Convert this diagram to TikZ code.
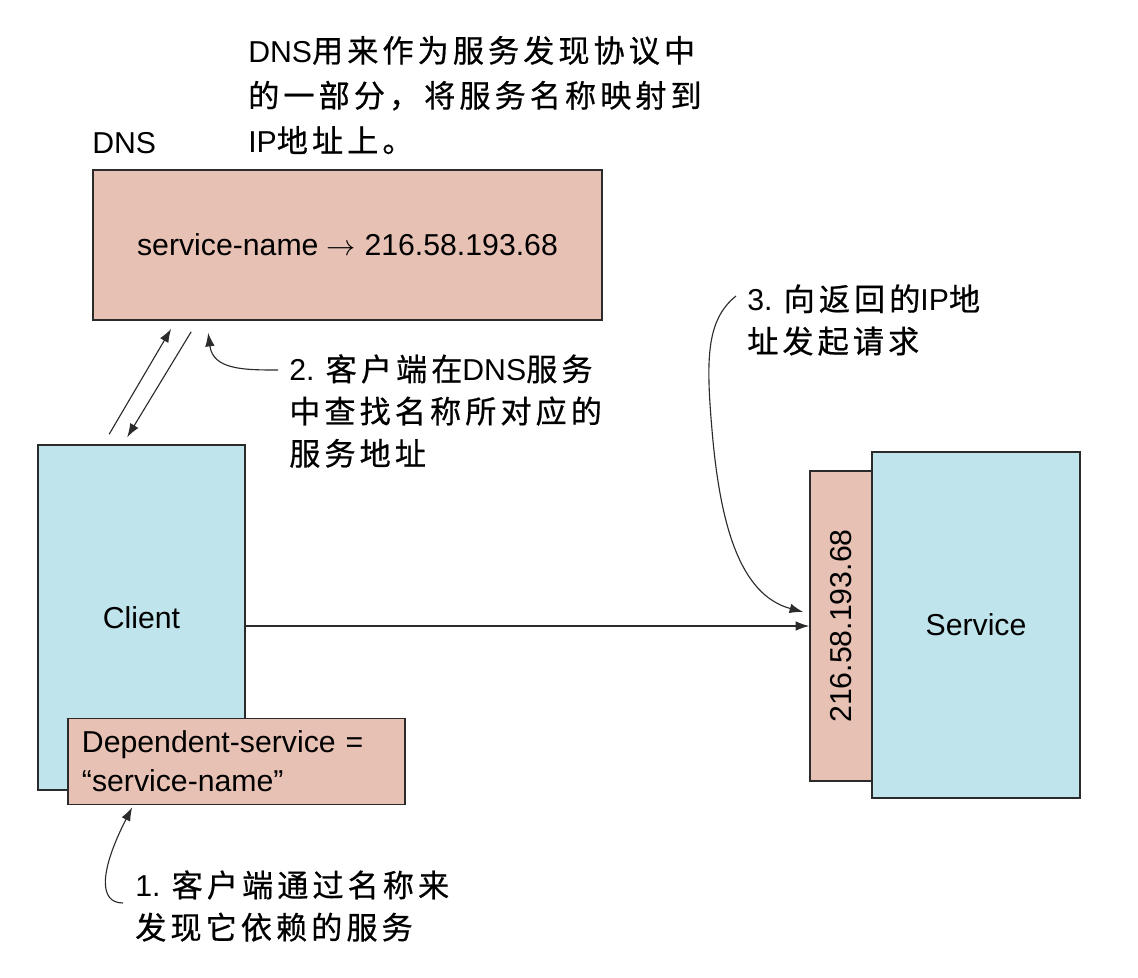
\documentclass[tikz,border=0pt]{standalone}
\usepackage{fontspec}
\setmainfont{Liberation Sans}
\newfontfamily\cjk{Noto Sans CJK SC}[Scale=1.03,LetterSpace=13,FakeBold=0.6]
\usetikzlibrary{arrows.meta}
\definecolor{pinkfill}{HTML}{E8C1B5}
\definecolor{bluefill}{HTML}{BFE4EC}
\definecolor{edge}{HTML}{2B2B2B}
\tikzset{
  box/.style={draw=edge, line width=1.1pt, inner sep=0pt},
  pinkbox/.style={box, fill=pinkfill},
  bluebox/.style={box, fill=bluefill},
  note/.style={align=left, inner sep=0pt, anchor=west},
  arr/.style={-{Latex[length=0.34cm,width=0.24cm]}, line width=0.8pt, draw=edge},
}
\begin{document}
\begin{tikzpicture}[x=0.025cm, y=-0.025cm, font=\fontsize{21.5}{30}\selectfont]
\useasboundingbox (0,0) rectangle (1138,978);
\node[pinkbox, minimum width=12.725cm, minimum height=3.75cm] (dns) at (347.5,245) {service-name $\rightarrow$ 216.58.193.68};
\node[anchor=west, inner sep=0pt] (dnslabel) at (92,143) {DNS};
\node[bluebox, minimum width=5.175cm, minimum height=8.625cm] (client) at (141.5,617.5) {Client};
\node[pinkbox, minimum width=8.425cm, minimum height=2.15cm, text width=7.725cm, align=left, font=\fontsize{21.5}{28}\selectfont] (dependent) at (236.5,761.5) {Dependent-service =\\``service-name''};
\node[pinkbox, minimum width=1.55cm, minimum height=7.75cm] (ip) at (841,626) {};
\node[rotate=90, inner sep=0pt] (iptext) at (ip.center) {216.58.193.68};
\node[bluebox, minimum width=5.2cm, minimum height=8.65cm] (service) at (976,625) {Service};
\node[note, font=\fontsize{21.5}{32}\selectfont] (about) at (248,95) {DNS{\cjk 用来作为服务发现协议中}\\{\cjk 的一部分，将服务名称映射到}\\IP{\cjk 地址上。}};
\node[note] (lookup) at (289,411) {2. {\cjk 客户端在}DNS{\cjk 服务}\\{\cjk 中查找名称所对应的}\\{\cjk 服务地址}};
\node[note] (request) at (747,320) {3. {\cjk 向返回的}IP{\cjk 地}\\{\cjk 址发起请求}};
\node[note] (discover) at (135,906) {1. {\cjk 客户端通过名称来}\\{\cjk 发现它依赖的服务}};
\draw[arr] ([shift={(72,-10)}]client.north west) -- ([shift={(79,8)}]dns.south west);
\draw[arr] ([shift={(99,11)}]dns.south west) -- ([shift={(90,-7)}]client.north west);
\draw[arr] (client.east |- ip.west) -- (ip.west);
\draw[arr] ([shift={(-11,-41)}]lookup.west) .. controls (245,370) and (213,370) .. ([shift={(116,12)}]dns.south west);
\draw[arr] ([shift={(-11,-24)}]request.west) .. controls (706,320) and (706,360) .. (712,430) .. controls (720,525) and (740,595) .. ([shift={(-6,-14)}]ip.west);
\draw[arr] ([shift={(-12,-3)}]discover.west) .. controls (98,903) and (100,870) .. ([shift={(65,2)}]dependent.south west);
\end{tikzpicture}
\end{document}
